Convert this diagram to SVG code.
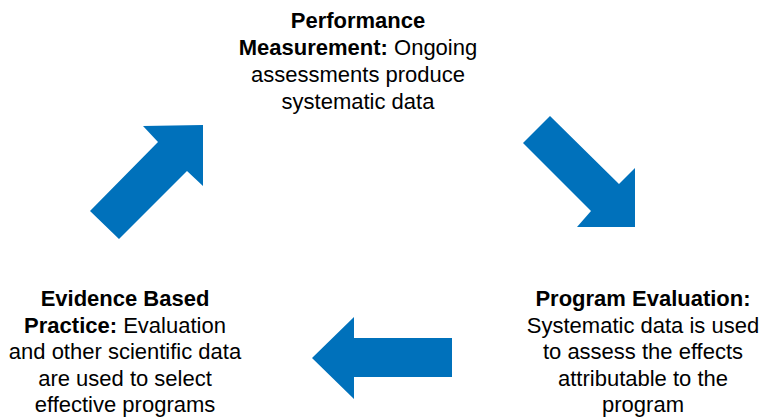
<svg xmlns="http://www.w3.org/2000/svg" width="761" height="417" viewBox="0 0 761 417">
<style>
.arrow{fill:#0071BB;stroke:none}
text{font-family:"Liberation Sans",Arial,Helvetica,sans-serif;font-size:22px;fill:#000;text-anchor:middle}
.b{font-weight:bold}
</style>
<rect width="761" height="417" fill="#fff"/>
<g id="connectors">
<polygon class="arrow" points="203,125 203,186 187,171 119,239 90,211 158,142 143,126"/>
<polygon class="arrow" points="550,116 619,184 635,168 635,227 577,227 591,211 523,143"/>
<polygon class="arrow" points="312,358 354,317 354,338 452,338 452,377 354,377 354,399"/>
</g>
<g id="performance-measurement">
<text x="358" y="28"><tspan class="b">Performance</tspan></text>
<text x="358" y="55"><tspan class="b">Measurement:</tspan> Ongoing</text>
<text x="358" y="82">assessments produce</text>
<text x="358" y="109">systematic data</text>
</g>
<g id="program-evaluation">
<text x="643" y="306"><tspan class="b">Program Evaluation:</tspan></text>
<text x="643" y="333">Systematic data is used</text>
<text x="643" y="359">to assess the effects</text>
<text x="643" y="386">attributable to the</text>
<text x="643" y="412">program</text>
</g>
<g id="evidence-based-practice">
<text x="125" y="306"><tspan class="b">Evidence Based</tspan></text>
<text x="125" y="333"><tspan class="b">Practice:</tspan> Evaluation</text>
<text x="125" y="359">and other scientific data</text>
<text x="125" y="386">are used to select</text>
<text x="125" y="412">effective programs</text>
</g>
</svg>
